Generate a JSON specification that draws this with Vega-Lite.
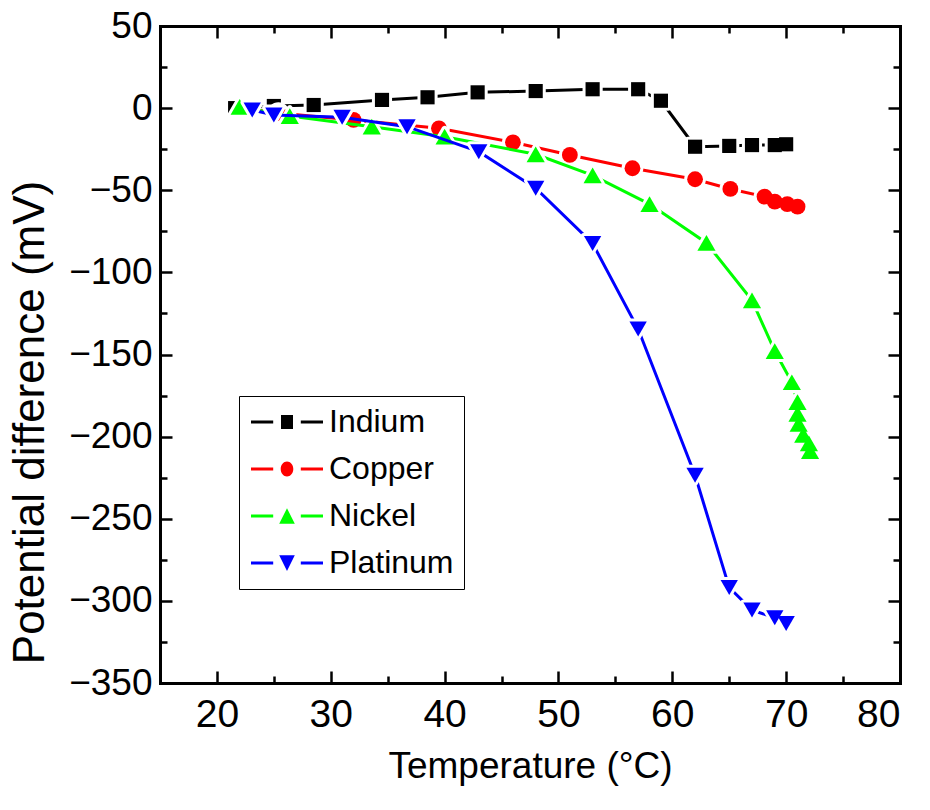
{
  "$schema": "https://vega.github.io/schema/vega-lite/v6.json",
  "width": 740,
  "height": 657,
  "autosize": "none",
  "padding": {"left": 160, "top": 26, "right": 30, "bottom": 127},
  "background": "white",
  "config": {
    "view": {"stroke": null},
    "font": "Liberation Sans",
    "axis": {
      "grid": false,
      "labelFont": "Liberation Sans",
      "titleFont": "Liberation Sans",
      "labelColor": "black",
      "titleColor": "black",
      "titleFontWeight": "normal",
      "domainColor": "black",
      "tickColor": "black",
      "domainCap": "square"
    },
    "legend": {
      "title": null, "orient": "none", "legendX": 79, "legendY": 370, "direction": "vertical",
      "padding": 10, "fillColor": "white", "strokeColor": "black",
      "symbolSize": 144, "symbolOffset": 22, "symbolStrokeWidth": 0, "symbolOpacity": 1,
      "labelOffset": 26, "labelFont": "Liberation Sans", "labelFontSize": 32, "labelColor": "black", "rowPadding": 15
    }
  },
  "datasets": {
    "indium": [
      {"metal": "Indium", "temp": 21.6, "mv": 0},
      {"metal": "Indium", "temp": 25.0, "mv": 1.3},
      {"metal": "Indium", "temp": 28.5, "mv": 1.9},
      {"metal": "Indium", "temp": 34.5, "mv": 5.0},
      {"metal": "Indium", "temp": 38.5, "mv": 6.6},
      {"metal": "Indium", "temp": 42.9, "mv": 9.6},
      {"metal": "Indium", "temp": 48.0, "mv": 10.4},
      {"metal": "Indium", "temp": 53.0, "mv": 11.5},
      {"metal": "Indium", "temp": 57.0, "mv": 11.5},
      {"metal": "Indium", "temp": 59.0, "mv": 4.5},
      {"metal": "Indium", "temp": 62.0, "mv": -23.5},
      {"metal": "Indium", "temp": 65.0, "mv": -23.0},
      {"metal": "Indium", "temp": 67.0, "mv": -22.5},
      {"metal": "Indium", "temp": 69.0, "mv": -22.5},
      {"metal": "Indium", "temp": 70.0, "mv": -22.0}
    ],
    "copper": [
      {"metal": "Copper", "temp": 22.5, "mv": -0.3},
      {"metal": "Copper", "temp": 25.4, "mv": -3.0},
      {"metal": "Copper", "temp": 32.0, "mv": -7.2},
      {"metal": "Copper", "temp": 39.5, "mv": -12.3},
      {"metal": "Copper", "temp": 46.0, "mv": -20.8},
      {"metal": "Copper", "temp": 51.0, "mv": -28.5},
      {"metal": "Copper", "temp": 56.5, "mv": -36.6},
      {"metal": "Copper", "temp": 62.0, "mv": -43.3},
      {"metal": "Copper", "temp": 65.1, "mv": -49.2},
      {"metal": "Copper", "temp": 68.1, "mv": -53.9},
      {"metal": "Copper", "temp": 69.0, "mv": -56.9},
      {"metal": "Copper", "temp": 70.1, "mv": -58.4},
      {"metal": "Copper", "temp": 71.0, "mv": -60.0}
    ],
    "nickel": [
      {"metal": "Nickel", "temp": 22.0, "mv": 0.7},
      {"metal": "Nickel", "temp": 26.4, "mv": -4.8},
      {"metal": "Nickel", "temp": 33.6, "mv": -11.3},
      {"metal": "Nickel", "temp": 40.0, "mv": -17.4},
      {"metal": "Nickel", "temp": 48.0, "mv": -28.1},
      {"metal": "Nickel", "temp": 53.0, "mv": -41.0},
      {"metal": "Nickel", "temp": 58.0, "mv": -58.4},
      {"metal": "Nickel", "temp": 63.0, "mv": -82.1},
      {"metal": "Nickel", "temp": 67.0, "mv": -117.0},
      {"metal": "Nickel", "temp": 69.0, "mv": -147.9},
      {"metal": "Nickel", "temp": 70.5, "mv": -166.9},
      {"metal": "Nickel", "temp": 71.0, "mv": -179.0},
      {"metal": "Nickel", "temp": 71.0, "mv": -186.2},
      {"metal": "Nickel", "temp": 71.1, "mv": -192.3},
      {"metal": "Nickel", "temp": 71.5, "mv": -199.0},
      {"metal": "Nickel", "temp": 72.0, "mv": -204.1},
      {"metal": "Nickel", "temp": 72.1, "mv": -208.8}
    ],
    "platinum": [
      {"metal": "Platinum", "temp": 23.1, "mv": -1.1},
      {"metal": "Platinum", "temp": 25.0, "mv": -4.2},
      {"metal": "Platinum", "temp": 31.0, "mv": -5.6},
      {"metal": "Platinum", "temp": 36.7, "mv": -11.3},
      {"metal": "Platinum", "temp": 43.0, "mv": -26.5},
      {"metal": "Platinum", "temp": 48.0, "mv": -48.8},
      {"metal": "Platinum", "temp": 53.0, "mv": -82.4},
      {"metal": "Platinum", "temp": 57.0, "mv": -134.5},
      {"metal": "Platinum", "temp": 62.0, "mv": -223.5},
      {"metal": "Platinum", "temp": 65.0, "mv": -291.9},
      {"metal": "Platinum", "temp": 67.0, "mv": -305.6},
      {"metal": "Platinum", "temp": 69.0, "mv": -310.3},
      {"metal": "Platinum", "temp": 70.0, "mv": -313.7}
    ]
  },
  "resolve": {"axis": {"x": "independent", "y": "independent"}},
  "layer": [
    {
      "data": {"name": "indium"},
      "mark": {"type": "line", "strokeWidth": 3, "color": "#000000"},
      "encoding": {
        "x": {"field": "temp", "type": "quantitative", "scale": {"domain": [15, 80], "nice": false, "zero": false},
          "axis": {"orient": "bottom", "values": [20, 30, 40, 50, 60, 70, 80], "ticks": false, "domain": true, "domainWidth": 3,
            "labelFontSize": 39, "labelPadding": 12, "labelFlush": true, "title": "Temperature (°C)", "titleFontSize": 37, "titlePadding": 14}},
        "y": {"field": "mv", "type": "quantitative", "scale": {"domain": [-350, 50], "nice": false, "zero": false},
          "axis": {"orient": "left", "values": [50, 0, -50, -100, -150, -200, -250, -300, -350], "ticks": false, "domain": true, "domainWidth": 3,
            "labelFontSize": 37, "labelPadding": 8, "title": "Potential difference (mV)", "titleFontSize": 44, "titlePadding": 16, "titleY": 396}},
        "order": {"value": null}
      }
    },
    {
      "data": {"name": "indium"},
      "mark": {"type": "point", "shape": "square", "size": 200, "filled": true, "fill": "white", "stroke": "white", "strokeWidth": 6, "strokeJoin": "round", "opacity": 1},
      "encoding": {
        "x": {"field": "temp", "type": "quantitative", "scale": {"domain": [15, 80], "nice": false, "zero": false},
          "axis": {"orient": "bottom", "values": [20, 30, 40, 50, 60, 70, 80], "tickSize": -12, "tickWidth": 2.5, "labels": false, "domain": false, "title": null}},
        "y": {"field": "mv", "type": "quantitative", "scale": {"domain": [-350, 50], "nice": false, "zero": false},
          "axis": {"orient": "left", "values": [50, 0, -50, -100, -150, -200, -250, -300, -350], "tickSize": -12, "tickWidth": 2.5, "labels": false, "domain": false, "title": null}}
      }
    },
    {
      "data": {"name": "indium"},
      "mark": {"type": "point", "shape": "square", "size": 200, "filled": true, "opacity": 1, "strokeWidth": 0, "color": "#000000"},
      "encoding": {
        "x": {"field": "temp", "type": "quantitative", "scale": {"domain": [15, 80], "nice": false, "zero": false},
          "axis": {"orient": "bottom", "values": [25, 35, 45, 55, 65, 75], "tickSize": -7, "tickWidth": 2.5, "labels": false, "domain": false, "title": null}},
        "y": {"field": "mv", "type": "quantitative", "scale": {"domain": [-350, 50], "nice": false, "zero": false},
          "axis": {"orient": "left", "values": [25, -25, -75, -125, -175, -225, -275, -325], "tickSize": -7, "tickWidth": 2.5, "labels": false, "domain": false, "title": null}}
      }
    },
    {
      "data": {"name": "copper"},
      "mark": {"type": "line", "strokeWidth": 3, "color": "#ff0000"},
      "encoding": {
        "x": {"field": "temp", "type": "quantitative", "scale": {"domain": [15, 80], "nice": false, "zero": false},
          "axis": {"orient": "top", "values": [20, 30, 40, 50, 60, 70, 80], "tickSize": -12, "tickWidth": 2.5, "labels": false, "domain": true, "domainWidth": 3, "title": null}},
        "y": {"field": "mv", "type": "quantitative", "scale": {"domain": [-350, 50], "nice": false, "zero": false},
          "axis": {"orient": "right", "values": [50, 0, -50, -100, -150, -200, -250, -300, -350], "tickSize": -12, "tickWidth": 2.5, "labels": false, "domain": true, "domainWidth": 3, "title": null}},
        "order": {"value": null}
      }
    },
    {
      "data": {"name": "copper"},
      "mark": {"type": "point", "shape": "circle", "size": 250, "filled": true, "fill": "white", "stroke": "white", "strokeWidth": 6, "opacity": 1},
      "encoding": {
        "x": {"field": "temp", "type": "quantitative", "scale": {"domain": [15, 80], "nice": false, "zero": false},
          "axis": {"orient": "top", "values": [25, 35, 45, 55, 65, 75], "tickSize": -7, "tickWidth": 2.5, "labels": false, "domain": false, "title": null}},
        "y": {"field": "mv", "type": "quantitative", "scale": {"domain": [-350, 50], "nice": false, "zero": false},
          "axis": {"orient": "right", "values": [25, -25, -75, -125, -175, -225, -275, -325], "tickSize": -7, "tickWidth": 2.5, "labels": false, "domain": false, "title": null}}
      }
    },
    {
      "data": {"name": "copper"},
      "mark": {"type": "point", "shape": "circle", "size": 250, "filled": true, "opacity": 1, "strokeWidth": 0, "color": "#ff0000"},
      "encoding": {
        "x": {"field": "temp", "type": "quantitative", "scale": {"domain": [15, 80], "nice": false, "zero": false}, "axis": null},
        "y": {"field": "mv", "type": "quantitative", "scale": {"domain": [-350, 50], "nice": false, "zero": false}, "axis": null}
      }
    },
    {
      "data": {"name": "nickel"},
      "mark": {"type": "line", "strokeWidth": 3, "color": "#00ff00"},
      "encoding": {
        "x": {"field": "temp", "type": "quantitative", "scale": {"domain": [15, 80], "nice": false, "zero": false}, "axis": null},
        "y": {"field": "mv", "type": "quantitative", "scale": {"domain": [-350, 50], "nice": false, "zero": false}, "axis": null},
        "order": {"value": null}
      }
    },
    {
      "data": {"name": "nickel"},
      "mark": {"type": "point", "shape": "triangle-up", "size": 330, "filled": true, "fill": "white", "stroke": "white", "strokeWidth": 6, "strokeJoin": "round", "opacity": 1},
      "encoding": {
        "x": {"field": "temp", "type": "quantitative", "scale": {"domain": [15, 80], "nice": false, "zero": false}, "axis": null},
        "y": {"field": "mv", "type": "quantitative", "scale": {"domain": [-350, 50], "nice": false, "zero": false}, "axis": null}
      }
    },
    {
      "data": {"name": "nickel"},
      "mark": {"type": "point", "shape": "triangle-up", "size": 330, "filled": true, "opacity": 1, "strokeWidth": 0, "color": "#00ff00"},
      "encoding": {
        "x": {"field": "temp", "type": "quantitative", "scale": {"domain": [15, 80], "nice": false, "zero": false}, "axis": null},
        "y": {"field": "mv", "type": "quantitative", "scale": {"domain": [-350, 50], "nice": false, "zero": false}, "axis": null}
      }
    },
    {
      "data": {"name": "platinum"},
      "mark": {"type": "line", "strokeWidth": 3, "color": "#0000ff"},
      "encoding": {
        "x": {"field": "temp", "type": "quantitative", "scale": {"domain": [15, 80], "nice": false, "zero": false}, "axis": null},
        "y": {"field": "mv", "type": "quantitative", "scale": {"domain": [-350, 50], "nice": false, "zero": false}, "axis": null},
        "order": {"value": null}
      }
    },
    {
      "data": {"name": "platinum"},
      "mark": {"type": "point", "shape": "triangle-down", "size": 300, "filled": true, "fill": "white", "stroke": "white", "strokeWidth": 6, "strokeJoin": "round", "opacity": 1},
      "encoding": {
        "x": {"field": "temp", "type": "quantitative", "scale": {"domain": [15, 80], "nice": false, "zero": false}, "axis": null},
        "y": {"field": "mv", "type": "quantitative", "scale": {"domain": [-350, 50], "nice": false, "zero": false}, "axis": null}
      }
    },
    {
      "data": {"name": "platinum"},
      "mark": {"type": "point", "shape": "triangle-down", "size": 300, "filled": true, "opacity": 1, "strokeWidth": 0, "color": "#0000ff"},
      "encoding": {
        "x": {"field": "temp", "type": "quantitative", "scale": {"domain": [15, 80], "nice": false, "zero": false}, "axis": null},
        "y": {"field": "mv", "type": "quantitative", "scale": {"domain": [-350, 50], "nice": false, "zero": false}, "axis": null}
      }
    },
    {
      "data": {"name": "indium"},
      "transform": [{"filter": "false"}],
      "mark": {"type": "point", "filled": true, "opacity": 1, "strokeWidth": 0},
      "encoding": {
        "x": {"field": "temp", "type": "quantitative", "scale": {"domain": [15, 80], "nice": false, "zero": false}, "axis": null},
        "y": {"field": "mv", "type": "quantitative", "scale": {"domain": [-350, 50], "nice": false, "zero": false}, "axis": null},
        "color": {"field": "metal", "type": "nominal",
          "scale": {"domain": ["Indium", "Copper", "Nickel", "Platinum"], "range": ["#000000", "#ff0000", "#00ff00", "#0000ff"]},
          "legend": {"title": null}},
        "shape": {"field": "metal", "type": "nominal",
          "scale": {"domain": ["Indium", "Copper", "Nickel", "Platinum"],
            "range": [
              "M-6,-0.25L-2.3,-0.25L-2.3,0.25L-6,0.25ZM2.3,-0.25L6,-0.25L6,0.25L2.3,0.25ZM-1,-1.15L1,-1.15L1,1.15L-1,1.15Z",
              "M-6,-0.25L-2.3,-0.25L-2.3,0.25L-6,0.25ZM2.3,-0.25L6,-0.25L6,0.25L2.3,0.25ZM-1.05,0A1.05,1.25 0 1,0 1.05,0A1.05,1.25 0 1,0 -1.05,0Z",
              "M-6,-0.25L-2.3,-0.25L-2.3,0.25L-6,0.25ZM2.3,-0.25L6,-0.25L6,0.25L2.3,0.25ZM0,-1.3L1.3,1.3L-1.3,1.3Z",
              "M-6,-0.25L-2.3,-0.25L-2.3,0.25L-6,0.25ZM2.3,-0.25L6,-0.25L6,0.25L2.3,0.25ZM0,1.35L1.3,-1.3L-1.3,-1.3Z"
            ]},
          "legend": {"title": null}}
      }
    }
  ]
}
